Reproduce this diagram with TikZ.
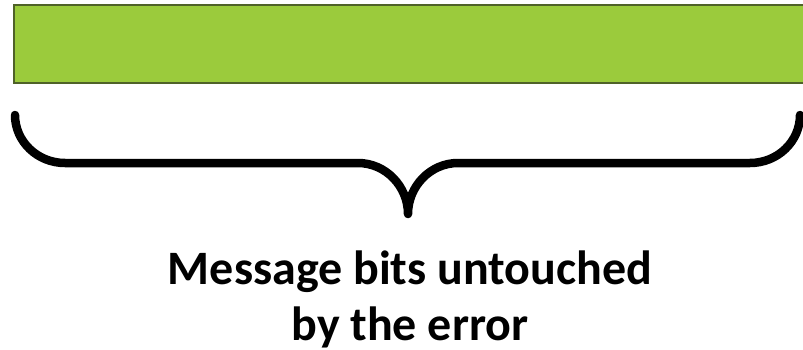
\documentclass[tikz,border=0pt]{standalone}
\usepackage{fontspec}
\setmainfont{Carlito}
\definecolor{barfill}{HTML}{9BCB3C}
\definecolor{barline}{HTML}{4F6228}
\begin{document}
\begin{tikzpicture}[x=1pt,y=-1pt,
  barstyle/.style={draw=barline,fill=barfill,line width=2.5pt},
  bracestyle/.style={draw=black,line width=8.5pt,line cap=round,line join=round},
  labelstyle/.style={font=\fontsize{48}{56}\selectfont\bfseries,align=center,inner sep=0pt}]
\useasboundingbox (0,0) rectangle (803,350);
\path[barstyle] (14,5) rectangle (808,83);
\coordinate (bl) at (15,115);
\coordinate (br) at (800,115);
\coordinate (tip) at (408,214);
\path[bracestyle] (bl) .. controls (15,141.5) and (37.4,163) .. (65,163)
  -- (358,163) .. controls (385.6,163) and (408,186.3) .. (tip)
  .. controls (408,186.3) and (430.4,163) .. (458,163)
  -- (750,163) .. controls (777.6,163) and (800,141.5) .. (br);
\node[labelstyle,anchor=base] (label) at (410,340) {Message bits untouched\\by the error};
\end{tikzpicture}
\end{document}
